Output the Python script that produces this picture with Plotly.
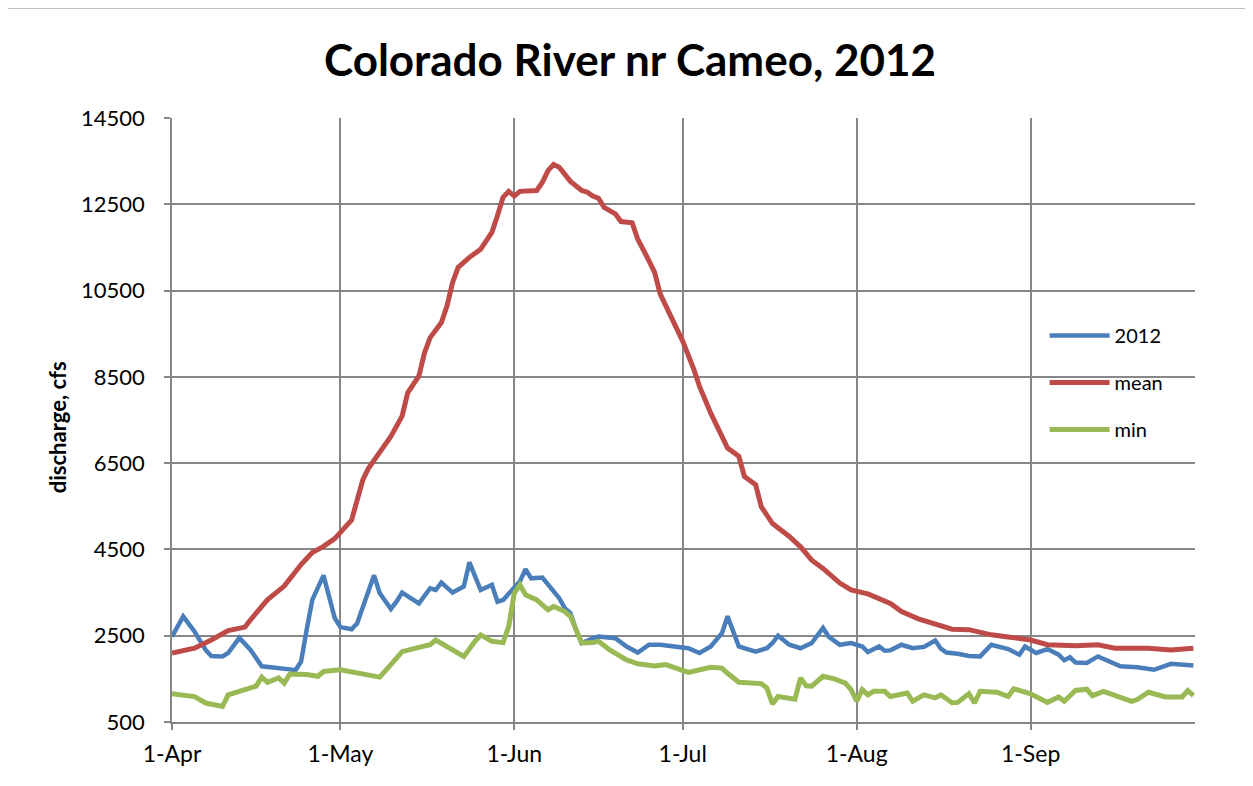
import pandas as pd
import plotly.graph_objects as go

# ---- data (day offsets from 1-Apr-2012, discharge in cfs) ----
y2012_day = [0, 2, 4, 6, 7, 9, 10, 12, 14, 16, 18, 20, 21, 22, 23, 24, 25, 27, 28, 29, 30, 32, 33,
             35, 36, 37, 39, 40, 41, 44, 46, 47, 48, 50, 52, 53, 54, 55, 57, 58, 59, 61, 62, 63,
             64, 66, 67, 69, 70, 71, 72, 73, 75, 76, 79, 81, 83, 85, 87, 89, 91, 92, 94, 96, 98,
             99, 100, 101, 104, 106, 107, 108, 110, 112, 114, 116, 117, 119, 121, 123, 124, 126,
             127, 128, 130, 132, 134, 136, 137, 138, 140, 142, 144, 146, 149, 151, 152, 154, 156,
             158, 159, 160, 161, 163, 165, 169, 172, 175, 178, 182]
y2012_val = [2480, 2950, 2600, 2170, 2030, 2020, 2100, 2450, 2170, 1790, 1765, 1750, 1720, 1700,
             1900, 2640, 3330, 3900, 3410, 2910, 2700, 2650, 2790, 3490, 3900, 3490, 3120, 3290,
             3500, 3250, 3600, 3560, 3730, 3500, 3640, 4200, 3870, 3560, 3680, 3290, 3330, 3600,
             3760, 4040, 3830, 3850, 3680, 3370, 3140, 3020, 2640, 2330, 2440, 2480, 2440, 2250,
             2110, 2290, 2290, 2250, 2230, 2210, 2100, 2250, 2560, 2950, 2600, 2250, 2130, 2210,
             2330, 2500, 2290, 2210, 2330, 2680, 2480, 2290, 2330, 2250, 2120, 2250, 2150, 2160,
             2290, 2210, 2240, 2390, 2200, 2110, 2080, 2030, 2020, 2290, 2190, 2060, 2250, 2100,
             2190, 2060, 1930, 2000, 1880, 1870, 2020, 1790, 1770, 1710, 1850, 1810]

mean_day = [0, 4, 7, 10, 13, 14, 17, 20, 23, 25, 27, 29, 32, 33, 34, 35, 37, 39, 41, 42, 44, 45,
            46, 48, 49, 50, 51, 53, 55, 57, 58, 59, 60, 61, 62, 65, 66, 67, 68, 69, 71, 73, 74,
            75, 76, 77, 79, 80, 82, 83, 85, 86, 87, 89, 91, 93, 94, 96, 98, 99, 101, 102, 104,
            105, 107, 110, 112, 114, 116, 119, 121, 124, 128, 130, 133, 137, 139, 142, 146, 149,
            153, 156, 161, 165, 168, 174, 178, 182]
mean_val = [2100, 2210, 2400, 2620, 2700, 2870, 3330, 3650, 4150, 4430, 4570, 4750, 5180, 5650,
            6110, 6380, 6730, 7120, 7590, 8130, 8520, 9060, 9410, 9760, 10140, 10690, 11040,
            11270, 11460, 11850, 12240, 12660, 12800, 12690, 12800, 12820, 13010, 13280, 13420,
            13360, 13030, 12820, 12780, 12690, 12640, 12430, 12280, 12100, 12070, 11690, 11190,
            10920, 10420, 9870, 9330, 8670, 8280, 7660, 7080, 6850, 6660, 6190, 6000, 5490, 5100,
            4800, 4560, 4250, 4060, 3720, 3560, 3470, 3250, 3060, 2890, 2730, 2650, 2640, 2520,
            2470, 2400, 2290, 2270, 2290, 2210, 2210, 2170, 2210]

min_day = [0, 4, 6, 9, 10, 13, 15, 16, 17, 19, 20, 21, 24, 26, 27, 30, 33, 37, 39, 41, 44, 46,
           47, 50, 52, 54, 55, 57, 59, 60, 61, 62, 63, 65, 67, 68, 70, 71, 72, 73, 75, 76, 78,
           81, 83, 86, 88, 90, 92, 96, 98, 99, 101, 105, 106, 107, 108, 111, 112, 113, 114, 116,
           118, 120, 121, 122, 123, 124, 125, 127, 128, 131, 132, 134, 136, 137, 139, 140, 142,
           143, 144, 147, 149, 150, 153, 156, 158, 159, 161, 163, 164, 166, 168, 171, 172, 174,
           177, 180, 181, 182]
min_val = [1155, 1090, 940, 860, 1130, 1250, 1330, 1540, 1420, 1520, 1400, 1610, 1600, 1560, 1670,
           1710, 1630, 1540, 1830, 2130, 2230, 2290, 2400, 2170, 2020, 2370, 2520, 2370, 2340,
           2710, 3490, 3680, 3450, 3330, 3100, 3180, 3060, 2950, 2640, 2330, 2340, 2370, 2170,
           1940, 1850, 1800, 1830, 1730, 1650, 1770, 1750, 1630, 1420, 1390, 1290, 920, 1090,
           1030, 1520, 1340, 1330, 1560, 1500, 1400, 1250, 980, 1250, 1130, 1210, 1210, 1090,
           1170, 980, 1130, 1060, 1130, 945, 955, 1155, 940, 1210, 1190, 1090, 1270, 1155, 955,
           1080, 980, 1230, 1260, 1110, 1210, 1130, 980, 1020, 1190, 1080, 1080, 1230, 1110]

series_names = ["2012", "mean", "min"]
series_colors = ["#4A7EBB", "#BE4B48", "#98B954"]
series_widths = [4.5, 5, 5]
y_ticks = [500, 2500, 4500, 6500, 8500, 10500, 12500, 14500]
x_tick_dates = ["2012-04-01", "2012-05-01", "2012-06-01", "2012-07-01", "2012-08-01", "2012-09-01"]
x_tick_labels = ["1-Apr", "1-May", "1-Jun", "1-Jul", "1-Aug", "1-Sep"]

start = pd.Timestamp("2012-04-01")


def to_dates(days):
    return start + pd.to_timedelta(days, unit="D")


FONT = "Lato"
GRID = "#878787"

fig = go.Figure()
for i, (d, v) in enumerate([(y2012_day, y2012_val), (mean_day, mean_val), (min_day, min_val)]):
    fig.add_trace(go.Scatter(
        x=to_dates(d), y=v, mode="lines", name=series_names[i],
        legendgroup=series_names[i],
        line=dict(color=series_colors[i], width=series_widths[i]),
    ))

fig.update_layout(
    width=1245, height=778,
    margin=dict(l=164, r=58, t=110, b=64),
    paper_bgcolor="white", plot_bgcolor="white",
    font=dict(family=FONT, size=22, color="black"),
    title=dict(text="<b>Colorado River nr Cameo, 2012</b>", x=0.4996, xref="container",
               y=0.933, yref="container", xanchor="center", yanchor="middle",
               font=dict(family=FONT, size=44, color="black")),
    showlegend=True,
    legend=dict(x=0.853, y=0.672, xanchor="left", yanchor="top",
                traceorder="grouped", tracegroupgap=18, itemwidth=60,
                bgcolor="rgba(0,0,0,0)", font=dict(family=FONT, size=20)),
    xaxis=dict(type="date", range=["2012-04-01", "2012-09-30 07:00"],
               tickvals=x_tick_dates, ticktext=x_tick_labels,
               tickfont=dict(size=23),
               showgrid=True, gridcolor=GRID, gridwidth=1.5,
               showline=True, linecolor=GRID, linewidth=1.5,
               ticks="outside", ticklen=6, tickcolor=GRID, tickwidth=1.5,
               ticklabelstandoff=5, zeroline=False),
    yaxis=dict(range=[500, 14500], tickvals=y_ticks, ticktext=[str(t) for t in y_ticks],
               showgrid=True, gridcolor=GRID, gridwidth=1.5,
               showline=True, linecolor=GRID, linewidth=1.5,
               ticks="outside", ticklen=6, tickcolor=GRID, tickwidth=1.5,
               ticklabelstandoff=15, zeroline=False),
    annotations=[dict(text="<b>discharge, cfs</b>", xref="paper", yref="paper",
                      x=-0.1124, y=0.488, xanchor="center", yanchor="middle",
                      textangle=-90, showarrow=False,
                      font=dict(family=FONT, size=22, color="black"))],
)

# thin chart-area border
fig.add_shape(type="rect", xref="paper", yref="paper",
              x0=-0.3, x1=1.0494, y0=-0.3, y1=1.1813,
              line=dict(color="#BFBFBF", width=1), layer="below")

fig.write_html("out.html")
